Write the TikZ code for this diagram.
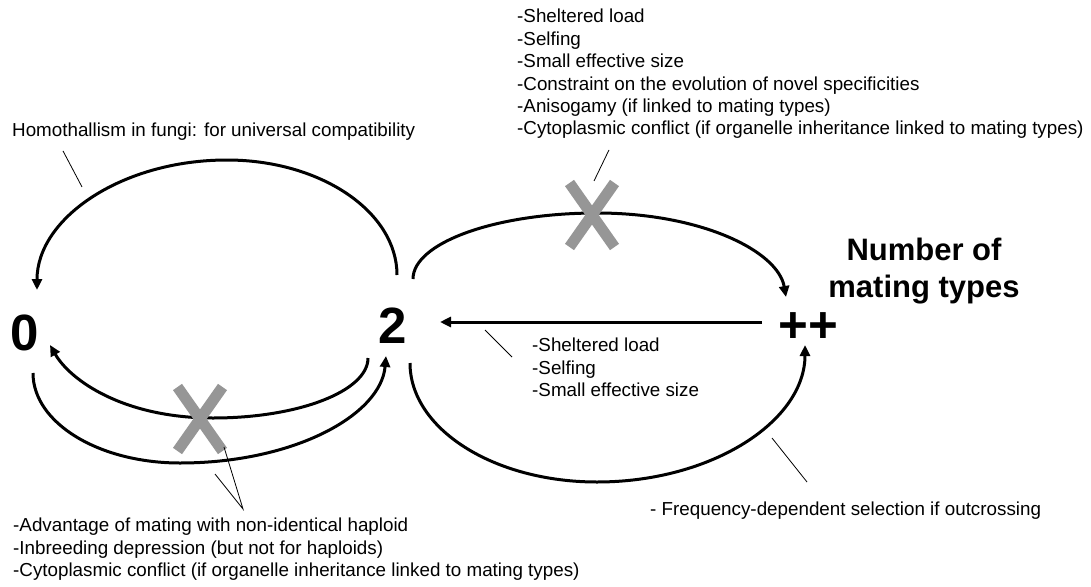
\documentclass[tikz,border=0pt]{standalone}
\usepackage{fontspec}
\setmainfont{Liberation Sans}
\usepackage{tikz}
\usetikzlibrary{arrows.meta, shapes.misc}
\definecolor{crossgray}{RGB}{150,150,150}

\begin{document}
\begin{tikzpicture}[x=1pt, y=-1pt,
    num/.style={font=\fontsize{51}{51}\selectfont\bfseries, inner sep=0pt, anchor=base},
    note/.style={font=\fontsize{18.8}{22.4}\selectfont, align=left, inner sep=0pt},
    flow/.style={line width=3pt, -{Triangle[length=11pt, width=10pt]}},
    nocross/.style={cross out, draw=crossgray, line width=11pt, minimum width=34pt, minimum height=53pt, inner sep=0pt},
    leader/.style={line width=0.8pt}]
  \useasboundingbox (0,0) rectangle (1091,586);

  \node[num] (zero) at (25,350) {0};
  \node[num] (two) at (393,343) {2};
  \node[num] (many) at (808,342) {++};
  \node[font=\fontsize{31}{37}\selectfont\bfseries, align=center, inner sep=0pt, anchor=north] (title) at (924,238) {Number of\\mating types};

  \draw[flow] ([shift={(4,-68)}]two.base) .. controls +(0,-63) and +(94,0) .. (227,160)
    .. controls +(-105,0) and +(0,-72) .. ([shift={(12,-60)}]zero.base);
  \draw[flow] ([shift={(-25,15)}]two.base) .. controls +(0,33) and +(86,0) .. (213,418)
    .. controls +(-90,0) and +(20,35) .. ([shift={(25,-5)}]zero.base);
  \draw[flow] ([shift={(8,23)}]zero.base) .. controls +(0,50) and +(-81,0) .. (180,463)
    .. controls +(114,0) and +(-5,59) .. ([shift={(-7,13)}]two.base);
  \draw[flow] ([shift={(20,-64)}]two.base) .. controls +(0,-36) and +(-102,0) .. (597,213)
    .. controls +(104,0) and +(-8,-46) .. ([shift={(-22,-45)}]many.base);
  \draw[flow] ([shift={(17,20)}]two.base) .. controls +(0,66) and +(-103,0) .. (597,482)
    .. controls +(115,0) and +(0,76) .. ([shift={(-3,3)}]many.base);
  \draw[flow] ([shift={(-46,-20)}]many.base) -- ([shift={(47,-21)}]two.base);

  \node[nocross] (xtop) at (592,215) {};
  \node[nocross] (xlow) at (200,419) {};

  \node[note, anchor=north west] (homonote) at (12,123) {Homothallism in fungi: for universal compatibility};
  \node[note, anchor=north west] (topnote) at (517,9) {-Sheltered load\\-Selfing\\-Small effective size\\-Constraint on the evolution of novel specificities\\-Anisogamy (if linked to mating types)\\-Cytoplasmic conflict (if organelle inheritance linked to mating types)};
  \node[note, anchor=north west] (midnote) at (532,338) {-Sheltered load\\-Selfing\\-Small effective size};
  \node[note, anchor=north west] (lownote) at (13,518) {-Advantage of mating with non-identical haploid\\-Inbreeding depression (but not for haploids)\\-Cytoplasmic conflict (if organelle inheritance linked to mating types)};
  \node[note, anchor=north west] (freqnote) at (650,502) {- Frequency-dependent selection if outcrossing};

  \coordinate (lowtip) at (215,474);
  \draw[leader] ([shift={(51,10)}]homonote.south west) -- ++(19,36);
  \draw[leader] ([shift={(2,-2)}]xtop.north) -- ([shift={(92,11)}]topnote.south west);
  \draw[leader] ([shift={(-47,-8)}]midnote.north west) -- ++(27,27);
  \draw[leader] ([shift={(24,28)}]xlow.center) -- ([shift={(230,-9)}]lownote.north west) -- (lowtip);
  \draw[leader] ([shift={(157,-20)}]freqnote.north west) -- ++(-35,-44);
\end{tikzpicture}
\end{document}
